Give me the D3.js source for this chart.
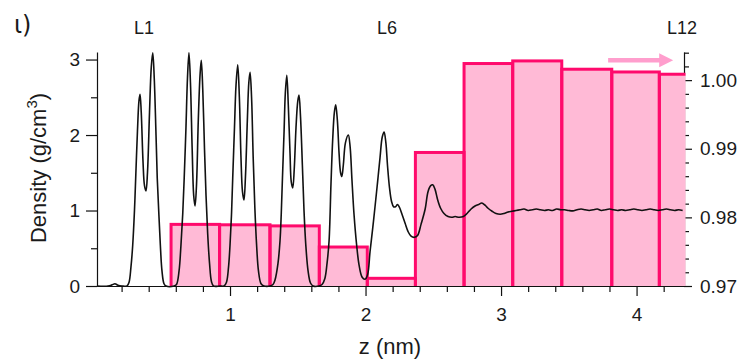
<!DOCTYPE html>
<html>
<head>
<meta charset="utf-8">
<script src="https://cdn.jsdelivr.net/npm/d3@7"></script>
<style>
  body { margin: 0; background: #fff; }
  svg { display: block; }
  text { font-family: "Liberation Sans", Arial, sans-serif; fill: #1a1a1a; }
</style>
</head>
<body>
<div id="chart"></div>
<script>
// density profile, [z (nm), density (g/cm3)]
const densityCurve = [
  [0.018,0],[0.100,0],[0.129,0.015],[0.151,0.03],[0.173,0.01],[0.203,0],[0.240,0],[0.255,0.05],[0.269,0.25],
  [0.282,0.54],[0.295,1.0],[0.304,1.43],[0.317,2.05],[0.328,2.45],[0.336,2.54],[0.345,2.3],[0.358,1.65],
  [0.369,1.33],[0.380,1.26],[0.391,1.5],[0.406,2.3],[0.419,2.9],[0.430,3.09],[0.441,2.75],[0.454,2.0],
  [0.463,1.43],[0.475,0.95],[0.486,0.54],[0.498,0.2],[0.513,0.03],[0.528,0],[0.587,0],
  [0.605,0.02],[0.624,0.2],[0.638,0.54],[0.651,0.95],[0.662,1.43],[0.675,2.1],[0.686,2.75],[0.697,3.09],
  [0.708,2.7],[0.721,1.8],[0.732,1.2],[0.742,1.06],[0.753,1.35],[0.766,2.2],[0.779,2.8],[0.788,2.99],
  [0.799,2.6],[0.812,1.8],[0.823,1.2],[0.835,0.7],[0.849,0.3],[0.863,0.06],[0.878,0],[0.926,0],
  [0.956,0],[0.974,0.05],[0.989,0.25],[1.000,0.54],[1.011,0.95],[1.020,1.43],[1.033,2.1],[1.044,2.65],
  [1.057,2.93],[1.069,2.5],[1.081,1.7],[1.092,1.25],[1.103,1.14],[1.114,1.45],[1.128,2.2],[1.139,2.7],
  [1.148,2.83],[1.159,2.5],[1.171,1.7],[1.183,1.05],[1.196,0.55],[1.210,0.2],[1.229,0.03],[1.251,0],[1.295,0],
  [1.317,0.02],[1.332,0.08],[1.354,0.3],[1.369,0.6],[1.378,0.95],[1.387,1.43],[1.399,2.05],[1.408,2.55],
  [1.419,2.79],[1.430,2.4],[1.443,1.75],[1.452,1.38],[1.463,1.30],[1.474,1.55],[1.487,2.1],[1.500,2.45],
  [1.509,2.53],[1.520,2.25],[1.534,1.6],[1.546,1.0],[1.559,0.55],[1.576,0.2],[1.594,0.04],[1.613,0],[1.657,0],
  [1.679,0.02],[1.700,0.1],[1.716,0.3],[1.731,0.6],[1.745,1.35],[1.758,1.95],[1.770,2.3],[1.780,2.40],
  [1.792,2.2],[1.805,1.75],[1.816,1.5],[1.825,1.45],[1.836,1.6],[1.852,1.9],[1.873,2.0],[1.886,1.85],
  [1.900,1.4],[1.915,0.95],[1.934,0.55],[1.952,0.28],[1.974,0.12],[1.996,0.09],
  [2.015,0.15],[2.033,0.45],[2.052,0.75],[2.070,1.05],[2.089,1.38],[2.107,1.7],[2.123,1.97],[2.137,2.04],
  [2.150,1.9],[2.162,1.6],[2.177,1.3],[2.192,1.12],[2.207,1.05],[2.221,1.05],[2.236,1.08],[2.251,1.04],
  [2.269,0.95],[2.292,0.83],[2.314,0.72],[2.336,0.66],[2.360,0.645],[2.384,0.67],[2.410,0.82],[2.440,1.02],
  [2.461,1.25],[2.481,1.33],[2.496,1.34],[2.513,1.28],[2.531,1.15],[2.554,1.03],[2.579,0.96],[2.609,0.92],
  [2.636,0.91],[2.661,0.92],[2.690,0.91],[2.722,0.92],[2.749,0.96],[2.779,1.02],[2.808,1.06],[2.834,1.08],
  [2.858,1.10],[2.882,1.07],[2.904,1.03],[2.934,0.99],[2.963,0.96],[2.993,0.95],[3.022,0.96],[3.052,0.98],
  [3.081,0.99],[3.111,1.00],
  [3.140,1.01],[3.170,1.02],[3.200,1.00],[3.230,1.01],[3.260,1.02],[3.290,1.01],[3.320,1.00],[3.350,1.01],
  [3.380,1.00],[3.410,1.02],[3.440,1.01],[3.470,1.01],[3.500,1.00],[3.530,0.995],[3.560,1.01],[3.590,1.02],
  [3.620,1.01],[3.650,1.00],[3.680,1.01],[3.710,1.02],[3.740,1.00],[3.770,1.01],[3.800,1.02],[3.830,1.01],
  [3.860,1.00],[3.890,1.01],[3.920,1.00],[3.950,1.01],[3.980,1.02],[4.010,1.01],[4.040,1.00],[4.070,1.01],
  [4.100,1.02],[4.130,1.01],[4.160,1.00],[4.190,1.01],[4.220,1.02],[4.250,1.01],[4.280,1.00],[4.310,1.01],
  [4.340,1.00]
];

// layer-averaged density histogram (right axis); last bin runs past the axis
const binStarts = [0.565, 0.923, 1.295, 1.659, 2.013, 2.368, 2.727, 3.086, 3.448, 3.817, 4.168];
const binEnds   = [0.923, 1.295, 1.659, 2.013, 2.368, 2.727, 3.086, 3.448, 3.817, 4.168, 4.530];
const binValues = [0.97898, 0.97892, 0.97876, 0.97568, 0.97112, 0.98946, 1.00242, 1.00280, 1.00159, 1.00119, 1.00086];

const xTicks = [1, 2, 3, 4];
const xMinor = [0.2, 0.4, 0.6, 0.8, 1.2, 1.4, 1.6, 1.8, 2.2, 2.4, 2.6, 2.8, 3.2, 3.4, 3.6, 3.8, 4.2];
const leftTicks = [0, 1, 2, 3];
const leftMinor = [0.5, 1.5, 2.5];
const rightTicks = [0.97, 0.98, 0.99, 1.00];
const rightMinor = [0.972, 0.974, 0.976, 0.978, 0.982, 0.984, 0.986, 0.988, 0.992, 0.994, 0.996, 0.998, 1.002, 1.004];
const layerLabels = ["L1", "L6", "L12"];
const layerZ = [0.365, 2.159, 4.336];
const arrowZ = [3.79, 4.27];
const arrowLevel = 1.0029;

const W = 742, H = 360;
const svg = d3.select("#chart").append("svg").attr("width", W).attr("height", H);

const x = d3.scaleLinear().domain([0.0185, 4.35]).range([97, 684]);
const yL = d3.scaleLinear().domain([0, 3.1]).range([286, 52]);
const yR = d3.scaleLinear().domain([0.97, 1.0041]).range([286, 52]);

const pinkFill = "#ffbad6", pinkLine = "#ff0a6c";

// right axis line sits under the bars
svg.append("g").attr("transform", "translate(684,0)")
  .call(d3.axisRight(yR).tickValues(rightTicks).tickFormat(d3.format(".2f")).tickSize(8).tickPadding(8).tickSizeOuter(0));
svg.append("g").attr("transform", "translate(684,0)")
  .call(d3.axisRight(yR).tickValues(rightMinor).tickFormat("").tickSize(5).tickSizeOuter(0))
  .select(".domain").remove();

svg.append("clipPath").attr("id", "plotclip")
  .append("rect").attr("x", 97).attr("y", 0).attr("width", 588.5).attr("height", 286);

const bins = binValues.map((v, i) => ({ a: binStarts[i], b: binEnds[i], v }));

const barG = svg.append("g").attr("clip-path", "url(#plotclip)");
barG.selectAll("rect.fill").data(bins).enter().append("rect")
  .attr("class", "fill")
  .attr("x", d => x(d.a)).attr("width", d => x(d.b) - x(d.a))
  .attr("y", d => yR(d.v)).attr("height", d => yR(0.97) - yR(d.v) + 4)
  .attr("fill", pinkFill);

const line = d3.line().x(d => x(d[0])).y(d => yL(d[1])).curve(d3.curveCatmullRom.alpha(0.5));
svg.append("path").datum(densityCurve)
  .attr("d", line).attr("fill", "none").attr("stroke", "#111").attr("stroke-width", 1.6)
  .attr("stroke-linejoin", "round");

barG.selectAll("rect.edge").data(bins).enter().append("rect")
  .attr("class", "edge")
  .attr("x", d => x(d.a)).attr("width", d => x(d.b) - x(d.a))
  .attr("y", d => yR(d.v)).attr("height", d => yR(0.97) - yR(d.v) + 4)
  .attr("fill", "none").attr("stroke", pinkLine).attr("stroke-width", 3);

// arrow pointing to the right axis
svg.append("line")
  .attr("x1", x(arrowZ[0])).attr("x2", x(arrowZ[1]) - 12)
  .attr("y1", yR(arrowLevel)).attr("y2", yR(arrowLevel))
  .attr("stroke", "#ff9ecd").attr("stroke-width", 4.5);
svg.append("path")
  .attr("d", `M${x(arrowZ[1])},${yR(arrowLevel)} l-14,-7 l0,14 z`)
  .attr("fill", "#ff9ecd");

// left axis
svg.append("g").attr("transform", "translate(97,0)")
  .call(d3.axisLeft(yL).tickValues(leftTicks).tickFormat(d3.format("d")).tickSize(11).tickPadding(6).tickSizeOuter(0));
svg.append("g").attr("transform", "translate(97,0)")
  .call(d3.axisLeft(yL).tickValues(leftMinor).tickFormat("").tickSize(6).tickSizeOuter(0))
  .select(".domain").remove();

// bottom axis
svg.append("g").attr("transform", "translate(0,286)")
  .call(d3.axisBottom(x).tickValues(xTicks).tickFormat(d3.format("d")).tickSize(10).tickPadding(12).tickSizeOuter(0));
svg.append("g").attr("transform", "translate(0,286)")
  .call(d3.axisBottom(x).tickValues(xMinor).tickFormat("").tickSize(6).tickSizeOuter(0))
  .select(".domain").remove();

svg.selectAll(".tick text").attr("font-size", 19).attr("font-family", null).style("fill", "#1a1a1a");
svg.selectAll(".domain, .tick line").attr("stroke", "#111").attr("stroke-width", 1.2);

// layer labels
svg.selectAll("text.layer").data(layerLabels).enter().append("text")
  .attr("class", "layer")
  .attr("x", (d, i) => x(layerZ[i])).attr("y", 34)
  .attr("text-anchor", "middle").attr("font-size", 18)
  .text(d => d);

// axis titles
svg.append("text").attr("x", 390).attr("y", 354).attr("text-anchor", "middle")
  .attr("font-size", 22).text("z (nm)");

const yt = svg.append("text").attr("transform", "translate(46,168) rotate(-90)")
  .attr("text-anchor", "middle").attr("font-size", 22);
yt.append("tspan").text("Density (g/cm");
yt.append("tspan").attr("font-size", 15).attr("dy", -9).text("3");
yt.append("tspan").attr("dy", 9).text(")");

svg.append("text").attr("x", 14).attr("y", 33).attr("font-size", 24)
  .style("font-family", "'DejaVu Sans', sans-serif").text("ι)");
</script>
</body>
</html>
